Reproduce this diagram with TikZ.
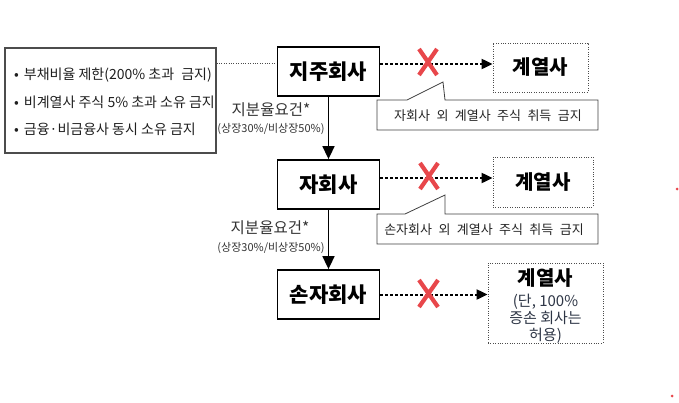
\documentclass[tikz,border=0pt]{standalone}
\usepackage{fontspec}
\setmainfont{Noto Sans CJK KR}
\usetikzlibrary{arrows.meta}
\definecolor{xred}{HTML}{E8474B}
\definecolor{subtx}{HTML}{2E3646}
\tikzset{
  mainbox/.style={draw=black,line width=1.8pt,fill=white,minimum width=102pt,minimum height=49pt,inner sep=0pt,font=\fontsize{21}{24}\selectfont\bfseries},
  affbox/.style={draw=black!70,line width=0.8pt,dash pattern=on 1pt off 1.4pt,fill=white,inner sep=0pt,font=\fontsize{20}{24}\selectfont\bfseries},
  dotarrow/.style={line width=2pt,dash pattern=on 2.4pt off 2.6pt,-{Triangle[length=11pt,width=10pt]}},
  downarrow/.style={line width=1.6pt,-{Triangle[length=13pt,width=12pt]}},
  xmark/.style={xred,line width=4.2pt},
  callout/.style={draw=black!75,line width=0.8pt,fill=white},
  calltext/.style={font=\fontsize{13}{15}\selectfont,text=black!85},
  reqtext/.style={font=\fontsize{15.5}{17}\selectfont,text=black!80,inner sep=0pt},
  reqsmall/.style={font=\fontsize{11}{12}\selectfont,text=black!80,inner sep=0pt},
  bullettext/.style={font=\fontsize{14}{16}\selectfont,text=black!88,anchor=west,inner sep=0pt},
}
\begin{document}
\begin{tikzpicture}[x=1pt,y=-1pt]
\useasboundingbox (0,0) rectangle (679,402);
% left box
\node[draw=black!70,line width=1.3pt,minimum width=211pt,minimum height=105pt,inner sep=0pt] (rules) at (110.5,100.5) {};
\node[bullettext] (b1) at (14,75) {•\hspace{5pt}부채비율 제한(200\% 초과\hspace{4pt} 금지)};
\node[bullettext] (b2) at (14,102) {•\hspace{5pt}비계열사 주식 5\% 초과 소유 금지};
\node[bullettext] (b3) at (14,129) {•\hspace{5pt}금융·비금융사 동시 소유 금지};
% main boxes
\node[mainbox] (hold) at (328.5,71.5) {지주회사};
\node[mainbox] (sub) at (328.5,184.5) {자회사};
\node[mainbox] (gsub) at (328.5,294.5) {손자회사};
% affiliate boxes
\node[affbox,minimum width=95pt,minimum height=49pt] (aff1) at (540.5,67.5) {계열사};
\node[affbox,minimum width=100pt,minimum height=50pt] (aff2) at (543,182) {계열사};
\node[affbox,minimum width=115pt,minimum height=80pt] (aff3) at (545.5,303) {};
\node[font=\fontsize{20}{24}\selectfont\bfseries,inner sep=0pt] (aff3t) at (545.5,278) {계열사};
\node[font=\fontsize{15}{17}\selectfont,text=subtx,align=center,inner sep=0pt,anchor=north] (aff3s) at (545.5,294) {(단, 100\%\\증손 회사는\\허용)};
% dotted link from rules box
\coordinate (r1) at ([yshift=-16pt]rules.north east);
\draw[black!70,line width=0.8pt,dash pattern=on 1pt off 1.4pt] (r1) -- (r1 -| hold.west);
% dotted arrows
\coordinate (h1) at ([yshift=7.5pt]hold.east);
\draw[dotarrow] (h1) -- (h1 -| aff1.west);
\coordinate (s1) at ([yshift=6.5pt]sub.east);
\draw[dotarrow] (s1) -- (s1 -| aff2.west);
\coordinate (g1) at (gsub.east);
\draw[dotarrow] (g1) -- (g1 -| aff3.west);
% red X marks
\draw[xmark] (419,49) -- (437,75) (437,49) -- (419,75);
\draw[xmark] (420,163) -- (438,189) (438,163) -- (420,189);
\draw[xmark] (419,280) -- (438,307) (438,280) -- (419,307);
% down arrows
\draw[downarrow] (hold.south) -- (sub.north);
\draw[downarrow] (sub.south) -- (gsub.north);
% requirement labels
\node[reqtext] (q1) at (271,110) {지분율요건*};
\node[reqsmall] (q1s) at (271,129) {(상장30\%/비상장50\%)};
\node[reqtext] (q2) at (270,228) {지분율요건*};
\node[reqsmall] (q2s) at (271,248) {(상장30\%/비상장50\%)};
% callouts
\draw[callout] (377,100) -- (407,100) -- (443,82) -- (445,100) -- (598,100) -- (598,130) -- (377,130) -- cycle;
\node[calltext] (c1) at (488,116) {자회사\hspace{3.5pt} 외\hspace{3.5pt} 계열사\hspace{3.5pt} 주식\hspace{3.5pt} 취득\hspace{3.5pt} 금지};
\draw[callout] (377,214) -- (405,214) -- (445,195) -- (445,214) -- (598,214) -- (598,244) -- (377,244) -- cycle;
\node[calltext] (c2) at (484,230) {손자회사\hspace{3.5pt} 외\hspace{3.5pt} 계열사\hspace{3.5pt} 주식\hspace{3.5pt} 취득\hspace{3.5pt} 금지};
% red dots
\fill[xred] (677,189) circle (1.5pt);
\fill[xred] (672,396) circle (1.5pt);
\end{tikzpicture}
\end{document}
